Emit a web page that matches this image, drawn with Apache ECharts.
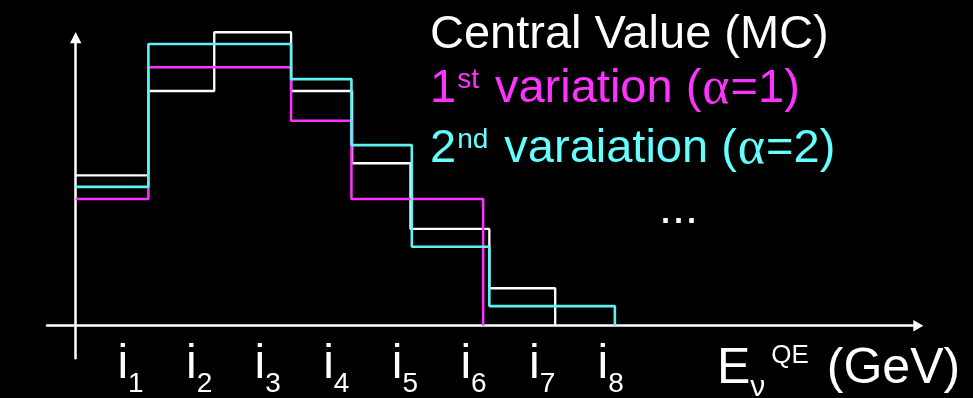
<!DOCTYPE html>
<html>
<head>
<meta charset="utf-8">
<script src="https://cdn.jsdelivr.net/npm/echarts@6/dist/echarts.min.js"></script>
<style>
  html, body { margin: 0; padding: 0; background: #000; }
  #chart { width: 973px; height: 398px; }
</style>
</head>
<body>
<div id="chart"></div>
<script>
// ---- data (x: bin edges, y: bin contents) ----
const tickLabels = ['i1', 'i2', 'i3', 'i4', 'i5', 'i6', 'i7', 'i8'];

const centralEdges  = [0, 1.06, 2.02, 3.14, 4.03, 4.88, 6.03, 6.99];
const centralValues = [5.22, 8.15, 10.19, 8.15, 5.64, 3.36, 1.30];

const var1Edges  = [0, 1.06, 3.14, 4.02, 5.94];
const var1Values = [4.40, 8.97, 7.12, 4.40];

const var2Edges  = [0, 1.06, 3.14, 4.02, 4.90, 6.03, 7.86];
const var2Values = [4.82, 9.78, 8.56, 6.27, 2.74, 0.68];

const seriesNames = ['Central Value (MC)', '1st variation (α=1)', '2nd varaiation (α=2)'];

// ---- helpers ----
function histPoints(edges, values) {
  const pts = values.map((v, i) => [edges[i], v]);
  pts.push([edges[edges.length - 1], 0]);
  return pts;
}

const SANS = '"Liberation Sans", Arial, sans-serif';
const WHITE = '#ffffff', MAGENTA = '#ff33ff', CYAN = '#66ffff';
const LINE_CYAN = '#5ff2f2';

function richSet(color) {
  return {
    m:   { fontFamily: SANS, fontSize: 47, fontWeight: 'normal', color: color, lineHeight: 56 },
    sup: { fontFamily: SANS, fontSize: 28, fontWeight: 'normal', color: color, verticalAlign: 'top', height: 39, padding: [0, 3, 0, 1] },
    g:   { fontFamily: '"Liberation Serif", "DejaVu Serif", serif', fontSize: 52, fontWeight: 'normal', color: color, lineHeight: 56, padding: [0, 1, 0, 1] }
  };
}

const chart = echarts.init(document.getElementById('chart'), null, { renderer: 'canvas' });

const axisLineStyle = { color: '#ffffff', width: 2.5 };

const option = {
  backgroundColor: '#000000',
  animation: false,
  title: [
    { left: 430, top: 7, padding: 0, text: '{m|Central Value (MC)}', textStyle: { rich: richSet(WHITE) } },
    { left: 430, top: 61, padding: 0, text: '{m|1}{sup|st}{m| variation (}{g|α}{m|=1)}', textStyle: { rich: richSet(MAGENTA) } },
    { left: 430, top: 121, padding: 0, text: '{m|2}{sup|nd}{m| varaiation (}{g|α}{m|=2)}', textStyle: { rich: richSet(CYAN) } },
    { left: 659, top: 182, padding: 0, text: '{m|...}', textStyle: { rich: richSet(WHITE) } },
    {
      left: 717, top: 341, padding: 0,
      text: '{e|E}{nu|ν}{qe|QE}{e| }{g|(GeV)}',
      textStyle: {
        rich: {
          e:  { fontFamily: SANS, fontSize: 50, color: WHITE, fontWeight: 'normal', lineHeight: 56 },
          g:  { fontFamily: SANS, fontSize: 50, color: WHITE, fontWeight: 'normal', lineHeight: 56, padding: [0, 0, 0, 4] },
          nu: { fontFamily: SANS, fontSize: 30, color: WHITE, fontWeight: 'normal', verticalAlign: 'bottom', height: 19 },
          qe: { fontFamily: SANS, fontSize: 26, color: WHITE, fontWeight: 'normal', verticalAlign: 'top', height: 30, padding: [0, 0, 0, 6] }
        }
      }
    }
  ],
  grid: [
    { left: 47, right: 54.7, top: 37.7, bottom: 39.7 },
    { left: 96.2, width: 548.8, top: 300, height: 26 }
  ],
  xAxis: [
    {
      type: 'value', gridIndex: 0, min: -0.418, max: 12.283,
      axisLine: { show: true, onZero: true, symbol: ['none', 'triangle'], symbolSize: [11.4, 10], lineStyle: axisLineStyle },
      axisTick: { show: false }, axisLabel: { show: false }, splitLine: { show: false }
    },
    {
      type: 'category', gridIndex: 1, data: tickLabels, boundaryGap: true,
      axisLine: { show: false }, axisTick: { show: false }, splitLine: { show: false },
      axisLabel: {
        show: true, interval: 0, margin: 14,
        formatter: function (s) { return '{b|' + s.charAt(0) + '}{s|' + s.slice(1) + '}'; },
        rich: {
          b: { fontFamily: SANS, fontSize: 48, color: WHITE, lineHeight: 56 },
          s: { fontFamily: SANS, fontSize: 28, color: WHITE, verticalAlign: 'bottom', height: 18 }
        }
      }
    }
  ],
  yAxis: [
    {
      type: 'value', gridIndex: 0, min: -1.132, max: 10,
      axisLine: { show: true, onZero: true, symbol: ['none', 'triangle'], symbolSize: [11.4, 11.3], lineStyle: axisLineStyle },
      axisTick: { show: false }, axisLabel: { show: false }, splitLine: { show: false }
    },
    { type: 'value', gridIndex: 1, show: false }
  ],
  series: [
    {
      name: seriesNames[0], type: 'line', xAxisIndex: 0, yAxisIndex: 0, step: 'end', symbol: 'none', clip: false,
      data: histPoints(centralEdges, centralValues),
      lineStyle: { color: WHITE, width: 2.3 }, itemStyle: { color: WHITE }, z: 3
    },
    {
      name: seriesNames[1], type: 'line', xAxisIndex: 0, yAxisIndex: 0, step: 'end', symbol: 'none', clip: false,
      data: histPoints(var1Edges, var1Values),
      lineStyle: { color: MAGENTA, width: 2.5 }, itemStyle: { color: MAGENTA }, z: 4
    },
    {
      name: seriesNames[2], type: 'line', xAxisIndex: 0, yAxisIndex: 0, step: 'end', symbol: 'none', clip: false,
      data: histPoints(var2Edges, var2Values),
      lineStyle: { color: LINE_CYAN, width: 2.6 }, itemStyle: { color: LINE_CYAN }, z: 5
    }
  ]
};

chart.setOption(option);
</script>
</body>
</html>
